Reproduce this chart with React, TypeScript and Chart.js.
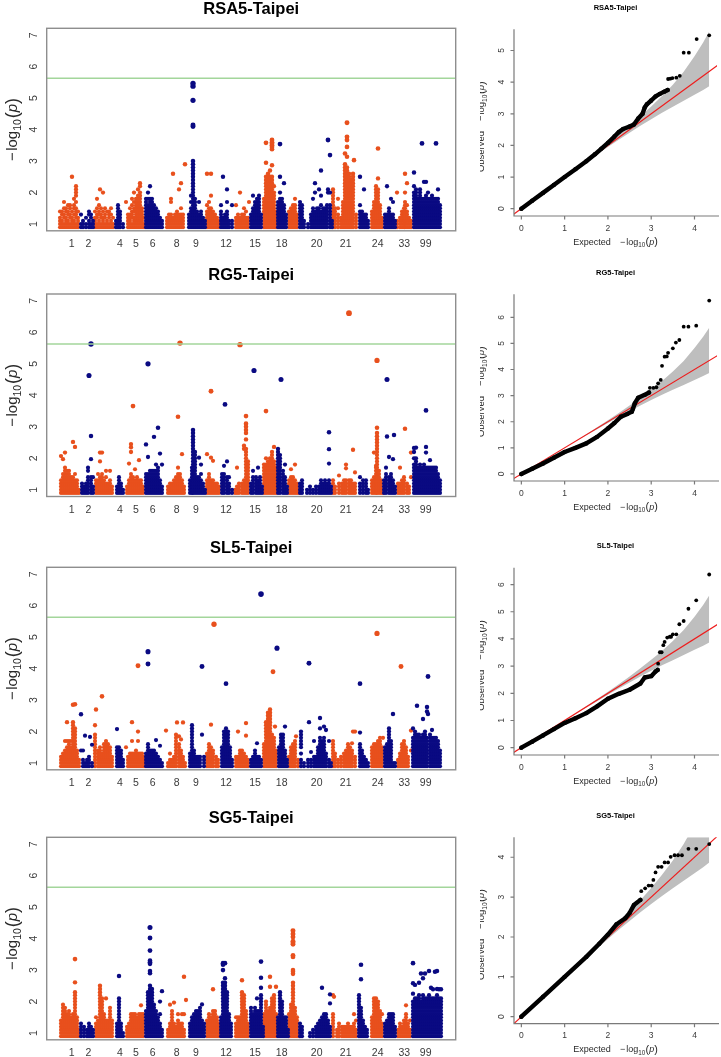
import React, { useEffect, useRef } from 'react';
import { Chart, registerables } from 'chart.js';

Chart.register(...registerables);

// ---------------- DATA ----------------
const CHROMS = ['1','2','3','4','5','6','8','9','10','12','13','15','17','18','19','20','21','22','24','25','33','99'];
const CHR_START = [13.3,33.3,47.3,68.3,78.3,98.3,119.3,141.3,158.3,173.3,187.3,203.3,216.3,230.3,241.3,252.3,284.3,311.3,323.3,336.3,349.3,365.3];
const TICK_POS = [25,41.6,73.3,89.3,106,130,149.3,179.3,208.3,235,270,299,331,357.6,379];
const TICK_LABELS = ['1','2','4','5','6','8','9','12','15','18','20','21','24','33','99'];
const MAN_Y_TICKS = [1,2,3,4,5,6,7];
const THRESHOLD = 5.63;

// per chromosome: "position:values(-log10 p x10) ..."
const RSA5 = [
 "0:9,10,11,12,14 2:9,10,11,13,14 4:9,10,12,13,15,17 6:9,10,11,12,14,15 8:9,10,11,13,14,16 10:9,10,12,13,15,16 12:9,10,11,12,14,25 14:9,10,11,13,15,16,18 16:9,10,12,13,14,15,17,19,20,21,22 18:9,10,11,12,14",
 "1:9,10,13 3:9,10,11 6:9,10,12 9:9,10,11,13,14 11:9,10,12,13 13:9,10,11",
 "1:9,10,11,12,14 3:9,10,12,13,15,18 5:9,10,11,13,14,16 6:21 7:9,10,12,13,15 9:9,10,11,12,14,20 11:9,10,12,13,15 13:9,10,11,14 15:9,10,12,13,14 17:9,10,11,13,15 19:9,10,12",
 "1:9,10,11 3:9,10,11,12,13,14,15,16 5:9,10,11,12,13,14 8:9,10",
 "1:17 3:9,10,11,12,13 5:9,10,11,12,13,15 7:9,10,12,13,14,16,18 9:9,10,11,12,14,15,17,20 11:9,10,11,12,13,14,15,16,17,18 13:9,10,11,12,13,14,15,16,17,18,19,21 15:9,10,11,12,13,14,15,16,17,18,19,20,22,23 17:9,10,11,12,13,14,15 19:9,10,12",
 "1:9,10,11,12,13,14,15,16,17,18 3:9,10,11,12,13,14,15,16,18,20 5:9,10,11,12,13,14,15,16,17,18,22 7:9,10,11,12,13,14,15,16,17,18 9:9,10,11,12,13,14,15,16 11:9,10,11,12,13,14,15 13:9,10,11,12,13,14 15:9,10,11,12 17:9,10,11",
 "1:9,10,11,12 3:9,10,11,12,13 5:9,10,11,12,13,17,18 7:9,10,11,12,26 9:9,10,11,12,13 11:9,10,11,12,13,14 13:9,10,11,12,13,21 15:9,10,11,12,13,15,23 17:9,10,11,12,13 19:29",
 "1:9,10,11,12,13 3:9,10,11,12,13,14,15,17,19 5:9,10,11,12,13,14,15,16,17,18,19,20,21,22,23,24,25,26,27,28,29,30,41,41.5,49.3,53.8,54.7 7:9,10,11,12,13,14,15,16,17,18 9:9,10,11,12,13,14 11:9,10,11,12,13,17 13:9,10,11,12,13,14 15:9,10,11,12 17:9,10,11",
 "2:9,10,11,12,13,14,16,26 4:9,10,11,12,13,14,15,17 6:9,10,11,12,13,14,15,19,26 8:9,10,11,12,13,14 10:9,10,11,12,13 12:9,10,11,12 14:9,10,11",
 "1:9,10,11,12,13,14,16 3:9,10,11,12,25 5:9,10,11,12,13 7:9,10,11,12,13,14,17,21 9:9,10,11 12:9,10,11,16",
 "2:9,10,11,12,16 4:9,10,11,12,13 6:9,10,11,12,20 8:9,10,11,12,13 10:9,10,11,12,13,15 12:9,10,11,12,14 14:9,10,11,12 15:17",
 "1:9,10,11,12,13 3:9,10,11,12,13,14,15,19 5:9,10,11,12,13,14,15,16,17 7:9,10,11,12,13,14,15,16,17,18 9:9,10,11,12,13,14,15,16,17,18,19 11:9,10,11,12,13",
 "1:9,10,11,12,13,14,15,16,17,18 3:9,10,11,12,13,14,15,16,17,18,19,20,21,22,23,24,25,29.5,35.8 5:9,10,11,12,13,14,15,16,17,18,19,20,21,22,23,24,25,26 7:9,10,11,12,13,14,15,16,17,18,19,20,21,22,23,24,25,27 9:9,10,11,12,13,14,15,16,17,18,19,20,21,22,23,24,25,28.7,33.8,34.5,35,35.5,36,36.7 11:9,10,11,12,13,14,15,16,17,18,19,20,22 13:9,10,11,12,13,14",
 "1:9,10,11,12,13,14,15,16,17 3:9,10,11,12,13,14,15,16,17,18,20,25,35.4 5:9,10,11,12,13,14,15,16,17,18 7:9,10,11,12,13,14,15,16,23 9:9,10,11,12,13",
 "1:9,10,11,12,13,14 3:9,10,11,12,13,14,15 5:9,10,11,12,13,14,15,16 7:9,10,11,12,13,14,15,16,18 9:9,10,11,12,13",
 "1:9,10,11,12,13,14,15,16,17 3:9,10,11,12,13,14,15,16 5:9,10,11 9:9,10 12:9,10,11,12,13 14:9,10,11,12,13,14,15,18 16:9,10,11,12,13,14,20,23 18:9,10,11,12,13,14,15 20:9,10,11,12,13,14,15,21 22:9,10,11,12,13,14,16,19,27 24:9,10,11,12,13,14,15 26:9,10,11,12,13,14,15 28:9,10,11,12,13,14,15,16 29:20,21,36.7 31:9,10,11,12,13,14,15,16,20,31.9 33:9,10,11",
 "2:9,10,11,12,13,14,15,16,17,18,19,20,21 4:9,10,11,12,13,14,15 7:9,10,11,12,13,15,18 10:9,10,11,12 12:9,10,11,12,13,14,15,16,17 14:9,10,11,12,13,14,15,16,17,18,19,20,21,22,23,24,25,26,27,28,29,32.4 16:9,10,11,12,13,14,15,16,17,18,19,20,21,22,23,24,25,26,27,28,31.4,34.5,36.7,37.7,42.2 18:9,10,11,12,13,14,15,16,17,18,19,20,21,22,23,24,25,26 20:9,10,11,12,13,14,15,16,17,18,19,20,21,22,23,24 22:9,10,11,12,13,14,15,16,17,18,19,20,21,22,23,24,25,26 23:30.3 25:9,10,11,12,13",
 "2:9,10,11,12,13,14,16,25 4:9,10,11,12,13,14 6:9,10,11,12,13,21 8:9,10,11,12,13 10:9,10,11",
 "2:9,10,11,12,13,14 4:9,10,11,12,13,14,15,16,17 6:9,10,11,12,13,14,15,16,17,18,19,20,21,22 8:9,10,11,12,13,14,15,16,17,18,19,20,21,24.5,34 10:9,10,11,12,13,14,15,16 12:9,10,11,12",
 "2:9,10,11,12,13 4:9,10,11,12,13,22 6:9,10,11,12,13,14,15 8:9,10,11,12,13,18 10:9,10,11,12,13,17 12:9,10,11",
 "1:9,10,11,20 4:9,10,11,12 6:9,10,11,12,13,14 8:9,10,11,12,13,14,15 9:9,10,11,12,13,14,15,16,17,20,26 11:9,10,11,12,13,14,16,23 13:9,10,11,12 15:9,10,11",
 "2:9,10,11,12,13,14,15,16,17,18,19,20,22,26.4 4:9,10,11,12,13,14,15,16,17,18,19,20,21 6:9,10,11,12,13,14,15,16,17,18 8:9,10,11,12,13,14,15,16,17,18,19,20,21 10:9,10,11,12,13,14,15,16,17,18,35.6 12:9,10,11,12,13,14,15,16,17,18,23.4 14:9,10,11,12,13,14,15,16,17,18,19,23.4 16:9,10,11,12,13,14,15,16,17,18,20 18:9,10,11,12,13,14,15,16,17,18 20:9,10,11,12,13,14,15,16,17,18,19 22:9,10,11,12,13,14,15,16,17,18 24:9,10,11,12,13,14,15,16,17,18,35.6 26:9,10,11,12,13,14,15,16,17,18,21 28:9,10,11,12,13,14,15,16",
];

const RG5 = [
 "1:9,10,11,12,13,20.7 3:9,10,11,12,13,14,15,19.7 5:9,10,11,12,13,14,15,16,17,21.8 7:9,10,11,12,13,14,15,16 9:9,10,11,12,13,14,15,16 11:9,10,11,12,13,14 13:9,10,11,12,13,14,25.2 15:9,10,11,12,13,15,23.6 17:9,10,11,12,13 19:9,10",
 "2:9,10,11,12 4:9,10,11 6:9,10,11,12 8:9,10,11,12,13,14,16,17 9:46.3 11:9,10,11,12,13,14,19.7,27.1,56.3 13:9,10,11,14",
 "2:9,10,11,12,13 4:9,10,11,12,13,15 6:9,10,11,12,13,14,19,21.8 8:9,10,11,12,13,14,15,21.8 10:9,10,11,12,13 12:9,10,11,12,14,16 14:9,10,11,12 16:9,10,11,12,13,16 18:9,10,11",
 "2:9,10,11 4:9,10,11,12,13,14 6:9,10,11,12 8:9,10",
 "2:9,10,11 4:9,10,11,12,13,18.3 6:9,10,11,12,13,14,15,22,23.5,24.5 8:9,10,11,12,13,14,36.6 10:9,10,11,12,13,16.5 12:9,10,11,12,13,14 14:9,10,11,12,13,19.4 16:9,10,11,12,13 18:9,10,11",
 "1:9,10,11,12,13,14,15,24.4 3:9,10,11,12,13,14,15,20.4,50 5:9,10,11,12,13,14,15,16 7:9,10,11,12,13,14,15,16 9:9,10,11,12,13,14,15,16,26.8 11:9,10,11,12,13,14,15,16,18 13:9,10,11,12,13,14,15,16,17,29.7 15:9,10,11,12,13,21.5 17:9,10,11,18",
 "2:9,10,11 4:9,10,11,12 6:9,10,11,12 8:9,10,11,12,13 10:9,10,11,12,13,14 12:9,10,11,12,13,14,15,17,33.2 14:9,10,11,12,13,14,15,56.6 16:9,10,11,12,13,21.3 18:9,10,11",
 "2:9,10,11,12,13 4:9,10,11,12,13,14,15,16,17 5:9,10,11,12,13,14,15,16,17,18,19,20,21,22,23,24,25,26,27,28,29 7:9,10,11,12,13,14,15,16,17,18,19,20,21,22 9:9,10,11,12,13,14 11:9,10,11,12,13,14,20.2 13:9,10,11,12,13,15,18 15:9,10,11,12 17:9,10",
 "2:9,10,11,12,13,21.3 4:9,10,11,12,13,14,15 6:9,10,11,12,13,20.2,41.3 8:9,10,11,12,13,19.2 10:9,10,11,12 12:9,10,11,12 14:9,10,11",
 "2:9,10,11,12,13,14,15 4:9,10,11,12,13,14,15,17.6 5:37.1 7:9,10,11,12,13,14,19 9:9,10,11,12,14 12:9,10",
 "1:9,10 3:9,10,11,17 5:9,10,11,12 6:56.1 8:9,10,11,12 10:9,10,11,12,13,23,24 12:9,10,11,12,13,14,15,16,17,18,19,20,21,22,23,26,28,29,30,31,33.4 14:9,10,11,12,13,14,15,16,17,18,19",
 "1:9,10,11,12 3:9,10,11,12,13,14,16 4:47.9 6:9,10,11,12,13,14 8:9,10,11,12,13,17 10:9,10,11,12,13,14 12:9,10,11",
 "1:9,10,11,12,13,14,15,16,17,18 3:9,10,11,12,13,14,15,16,17,18,20,35 5:9,10,11,12,13,14,15,16,17,18,19 7:9,10,11,12,13,14,15,16,17,18,19,20 9:9,10,11,12,13,14,15,16,17,18,19,20,21,22 11:9,10,11,12,13,14,15,16,17,18,19,23.6 13:9,10,11,12,13,14,15,16,17",
 "1:9,10,11,12,13,14,15,16,17,18,19,20,21,22,23 3:9,10,11,12,13,14,15,16,17,18,19,20,21 4:45 6:9,10,11,12,13,14,15,16 8:9,10,11,12,13,14,18 10:9,10,11",
 "1:9,10,11,12,13 3:9,10,11,12,13,14,16.5 5:9,10,11,12,13,14 7:9,10,11,12,13,18 9:9,10,11,12 11:9,10",
 "1:9,10,11,12 3:9,10,11,12,13 8:9,10 11:9,10,11 14:9,10 17:9,10,11 20:9,10,11 22:9,10,11,12,13 24:9,10,11,12 26:9,10,11,12,13 28:9,10,11,12 30:9,10,11,12,13,18.3,22.9,28.3 32:9,10,11",
 "2:9,10,11,12,13 4:9,10,11 8:9,10,11,12,14.5 11:9,10,11,12 13:9,10,11,12,13 15:9,10,11,12,13,16.8,18 18:66.1 18:9,10,11,12,13 20:9,10,11,12,13 22:9,10,11,12,22.7 24:9,10,11,12,15.5",
 "2:9,10,11,12,14 5:9,10,11,12,13 8:9,10,11,12,13 10:9,10",
 "2:9,10,11,12,13 4:9,10,11,12,13,14,21.8 6:9,10,11,12,13,14,15,16,17,17.6 7:9,10,11,12,13,14,15,16,17,18,19,20,21,22,23,24,25,26,27,28,29.7,51.1 9:9,10,11,12,13,14,15,16 11:9,10,11,12,13 13:9,10",
 "1:9,10,11,12,13 3:9,10,11,12,13,14,15,17 4:26.9,45 6:9,10,11,12,13,14,20.4 8:9,10,11,12,13,14,15 10:9,10,11,12,13,19.7 11:27.4 12:9,10,11",
 "2:9,10,11,12 4:9,10,11,12,17 6:9,10,11,12,13 8:9,10,11,12,13,14 9:29.4 11:9,10,11,12 13:9,10,11 15:14,21.8",
 "2:9,10,11,12,13,14,15,16,17,18,20,22,23.3 4:9,10,11,12,13,14,15,16,17,18,19,20,23.4 6:9,10,11,12,13,14,15,16,17 8:9,10,11,12,13,14,15,16,17,18 10:9,10,11,12,13,14,15,16,17 12:9,10,11,12,13,14,15,16,17,18 14:9,10,11,12,13,14,15,16,17,21.8,23.6,35.2 16:9,10,11,12,13,14,15,16,17 18:9,10,11,12,13,14,15,16,17,19.4 20:9,10,11,12,13,14,15,16,17 22:9,10,11,12,13,14,15,16,17 24:9,10,11,12,13,14,15,16,17 26:9,10,11,12,13,14,15 28:9,10,11,12,13",
];

const SL5 = [
 "1:9,10,11,12 3:9,10,11,12,13 5:9,10,11,12,13,14,17 7:9,10,11,12,13,14,15,17,23 9:9,10,11,12,13,14,15,16,17 11:9,10,11,12,13,14,15,17 13:9,10,11,12,13,14,15,16,17,18,19,20,21,22,23,28.5 15:9,10,11,12,13,14,15,16,17,18,19,20,21,28.7 17:9,10,11,12,13,14 19:9,10,11",
 "1:14,25.5 3:9,10,11,14 5:9,10,18.7 7:9,10,11 9:9,10,11,12 10:18.3 12:9,10,15.8",
 "1:9,10,11,12,13,14,15,16,17,18,19,22 2:27 4:9,10,11,12,13,14 6:9,10,11,12,13,14,15 8:9,10,11,12,13,31.2 10:9,10,11,12,13,14,15,16 12:9,10,11,12,13,14,15,16,17 14:9,10,11,12,13,14,15,16 16:9,10,11,12,13,14,15 18:9,10,11,12",
 "2:9,10,11,12,13,14,15,20.8 4:9,10,11,12,13,14,15 6:9,10,11,12,13,14 8:9,10,11",
 "1:15 3:9,10,11,12 5:9,10,11,12,13 7:9,10,11,12,13,17,23 9:9,10,11,12,13 11:9,10,11,12,13,14 13:9,10,11,12,13,17,20,40.9 15:9,10,11,12,13 17:9,10,11,12,13 19:9,10,11,12",
 "1:9,10,11,12,13 3:9,10,11,12,13,14,15,16,41.5,45.4 5:9,10,11,12,13,14 7:9,10,11,12,13,14 9:9,10,11,12,13,14 11:9,10,11,12,13,17.3 13:9,10,11,12 15:9,10,11,15.5 17:9,10",
 "0:20.3 2:9,10 4:9,10,11,13 6:9,10,11 8:9,10,11,12 10:9,10,11,12,13,14,15,16,17,18,19 11:22.9 13:9,10,11,12,13,14,15,16,18.5 15:9,10,11,12,13,14,17.5 17:9,10,11,12,22.9 19:9,10",
 "2:9,10,11,12,13 4:9,10,11,12,13,14,15,16,17,18,19,20,21,22 6:9,10,11,12,13,14 8:9,10,11,12 10:9,10,11,12 12:9,10,11,12 14:19,40.7 16:9,10,11,12",
 "2:9,10,11,12,13 4:9,10,11,12,13,14,15,16 6:9,10,11,12,13,14,15,22.2 8:9,10,11,12,13,14 9:54.1 11:9,10,11,12 13:9,10,11",
 "2:9,10,11,12,13,14,15 4:9,10,11,12,13,14,15,16,17,18,19,20 6:9,10,11,12,13,14,15,16,17,18,19,20,21,35.2 8:9,10,11,12,13,14,15,16,17,18,19,20 10:9,10,11,12,13,14,15 12:9,10,11",
 "2:9,10,11,12 4:9,10,11,12,20 6:9,10,11,12,13,14 8:9,10,11,12,13,14 10:9,10,11,12,13 12:9,10,11,12,18.7,22.7 14:9,10,11",
 "1:9,10,11 3:9,10,11,12 5:9,10,11,12,13,14 7:9,10,11,12,16.3 9:9,10,11,12 11:9,10,11,63.7",
 "1:9,10,11,12,13,14,15,16 3:9,10,11,12,13,14,15,16,17,18,19,20,21,22,23 5:9,10,11,12,13,14,15,16,17,18,19,20,21,22,23,24,25,26 7:9,10,11,12,13,14,15,16,17,18,19,20,21,22,23,24,25,26,27 9:9,10,11,12,13,14,15,16,17,18,19 10:39 11:9,10,11,12,13,14,15,16,17,18 12:21.6 13:9,10,11,12,13,14",
 "0:46.5 2:9,10,11,12,13,14,15 4:9,10,11,12,13,14,15,16,17,18,19 6:9,10,11,12,13,14,15,16,17,18,19 8:9,10,11,12,13,14,21.6 10:9,10,11",
 "1:9,10,11,12 3:9,10,11,12,13,14,15 5:9,10,11,12,13,14,15,16 7:9,10,11,12,13,14,15,16,17 8:18.5 10:9,10,11",
 "2:9,10,11,13,15,16,17,18,19,20 5:9,10 9:9,10,11 10:23,41.7 12:9,10,11,13.5 15:9,10,11,12,17 17:9,10,11,12 19:9,10,11,12,13,14,15 21:9,10,11,12,13,14,15,16,17,18,21,24.3 23:9,10,11,12,13,14,15,16,17 25:9,10,11,12,13,14,15,16,17,18,21.6 27:9,10,11,12,13,20.5 30:9,10,11,17 32:9,10",
 "2:9,10,11,12,13,14,15,16,17 4:9,10,11,12,13 7:9,10,11 10:9,10,11,12 13:9,10,11,12,13 15:9,10,11,12,13,14 17:9,10,11,12,13,14,15,16 19:9,10,11,12,13,14,15 21:9,10,11,12,13,14,16.3 22:20 24:9,10,11,12,20",
 "2:9,10,11,12,13,14,15,16,19.7,35.2 4:9,10,11,12,13,14 6:9,10,11,12 8:9,10,11 10:9,10",
 "2:9,10,11,12,13,14,15 4:9,10,11,12,13,14,15,16 6:9,10,11,12,13,14,15,16 7:51.2 8:9,10,11,12,13,14,15,16,17 10:9,10,11,12,13,14,15,16,17,18 12:9,10,11,12,13,14,15 13:18",
 "2:9,10,11,12,13,14,15 4:9,10,11,12,13,14,15,16 6:9,10,11,12,13,14,15,16,17,18,19,20,21 8:9,10,11,12,13,14,15,16,17 10:9,10,25.6 12:9,10",
 "2:9,10,11 4:9,10,11,12,13 5:40.7 6:9,10,11,12,13,14,15,16 8:9,10,11,12,13,14,15,16,17 10:9,10,11,12,13,14,15 12:9,10,11,12 15:14,20.3",
 "1:9,10,11,12,13,14,15,16,17,18,21 3:9,10,11,12,13,14,15,16,17,18,19,20 5:9,10,11,12,13,14,15,16,17,18,19,28.2 7:9,10,11,12,13,14,15,16,17,18,19 9:9,10,11,12,13,14,15,16,17,18 11:9,10,11,12,13,14,15,16,17,18,19,24 13:9,10,11,12,13,14,15,16,17,18,19,20 15:9,10,11,12,13,14,15,16,17,18,26.4,27.8 16:25.6,37.5 18:9,10,11,12,13,14,15,16,17,18,19 20:9,10,11,12,13,14,15,16,17,18,20.5 22:9,10,11,12,13,14,15,16,17,18 24:9,10,11,12,13,14,15,16,17,18 26:9,10,11,12,13,14,15,16,17 28:9,10,11,12,13,14",
];

const SG5 = [
 "1:9,10,11,12,13,14 3:9,10,11,12,13,14,15,16,17,18,19 5:9,10,11,12,13,14,15,16,17,18 7:9,10,11,12,13,14,15,16 9:9,10,11,12,13,14,15,16,17 11:9,10,11,12,13,14,15 13:9,10,11,12,13,14,15,16 15:9,10,11,12,13,14,15,16,17,18,19,20,21,22,23,26.1,33.5 17:9,10,11,12,13,14,15 19:9,10,11",
 "1:9,10,11,12,13 4:9,10,11,12 7:9,10,11 9:9,10,11,12,13 11:9,10,11,12 13:9,10,11",
 "2:9,10,11,12,13,15 4:9,10,11,12,13,14 6:9,10,11,12,13,14,15,16,17,18,19,20,21,22,23,24,25 8:9,10,11,12,13,14,15,16,17,18,19,20,21 10:9,10,11,12,13,14,15,16 12:9,10,11,12,13,14,21 14:9,10,11,12,13,14 16:9,10,11,12,13,14,15,16,17,18 18:9,10,11,12,13,14",
 "2:9,10,11,12,13 4:9,10,11,12,13,14,15,16,17,18,19,20,21,28.1 6:9,10,11,12,13 8:9,10",
 "2:9,10,11,12 4:9,10,11,12,13 6:9,10,11,12,13,14,15,16 8:9,10,11,12,13,14,15,16 10:9,10,11,12,13,14,15,16 12:9,10,11,12,13,14,15 14:9,10,11,12,13,14,15,16 16:9,10,11,12,13,14,15,16,18.8 18:9,10,11,12,13,14,15,16",
 "1:9,10,11,12,13,14,15,16,17 3:9,10,11,12,13,14,15,16,17,18,19,20,21,22,23 5:9,10,11,12,13,14,15,16,17,18,19,20,21,22,23,24,25,29,29.7,32,32.5,33,36.2,40.2,43.5 7:9,10,11,12,13,14,15,16,17,18,19,20,21,22,23,24 9:9,10,11,12,13,14,15,16,17,18,19 11:9,10,11,12,13,14,15,16,17 13:9,10,11,12,13,14,15 15:9,10,11,12,13,16,20 17:9,10,11,23.3",
 "2:9,10,11 4:9,10,11,12,13,19 6:9,10,11,12,13,14,15,16,17 8:9,10,11,12,13,19.7 10:9,10,11,12 12:9,10,11,12,13,14,16 14:9,10,11,12,13 16:9,10,11,12,13,16 18:9,10,11,16,27.9 20:20.5",
 "2:9,10,11,12,13 4:9,10,11,12,13,14,15 6:9,10,11,12,13,14,15,16 8:9,10,11,12,13,14,15,16,17 10:9,10,11,12,13,14,15,16,17 12:9,10,11,12,13,14,15,16,17,18 14:9,10,11,12,13,14,19.1 16:9,10,11,12,13",
 "2:9,10,11,12,13,14 4:9,10,11,12,13,14,15,16 6:9,10,11,12,13,14,15 8:9,10,11,12,13,14,15,16,17,23.9 10:9,10,11,12,13,14,15,16,17 12:9,10,11,12,13,14,15 14:9,10,11,12,13",
 "1:9,10,11,12,13,14,15 3:9,10,11,12,13,14,15,16,17,18,19,20,21,22,23,24,25,26,30,31.7,32.2 5:9,10,11,12,13,14,15,16,17,18,19,20,21,22,23,24,25,26,27.4,32.2 7:9,10,11,12,13,14,15,16,17,18,19,20,21,22,23 9:9,10,11,12,13,14,15,16 11:9,10,11,12,13",
 "2:9,10,11,12,13,15 4:9,10,11,12,13,14,15 6:9,10,11,12,13,14,15 8:9,10,11,12,13,14,15,16,17,18,19,20,21,22,23,26.8 10:9,10,11,12,13,14,15,16,17,18,19,20,21,22 12:9,10,11,12,13,14,15,16,17 14:9,10,11,12,13",
 "1:9,10,11,12,13,14,15,16,17,18 3:9,10,11,12,13,14,15,16 5:9,10,11,12,13,14,15,16,17,18 7:9,10,11,12,13,14,15,16,17,21 9:9,10,11,12,13,14,15,16,17 11:9,10,11,12,13,14,15,16,17,18,19,20,21,22,24.4,27.6,32.7 13:9,10,11,12",
 "1:9,10,11,12,13,14,15,16 3:9,10,11,12,13,14,15,16,17,18,19,20 5:9,10,11,12,13,14,15,16,17 7:9,10,11,12,13,14,15,16,17,18,24.7,27.9 9:9,10,11,12,13,14,15,16,17,18,19,20,21 11:9,10,11,12,13,14,15,16,17,18,19,20,21,22 13:9,10,11,12,13,14,15,16,24.7",
 "1:9,10,11,12,13,14,15 3:9,10,11,12,13,14,15,16,17,18,19,20,21,22,23 5:9,10,11,12,13,14,15,16,17,18,19,20 7:9,10,11,12,13,14,15 9:9,10,11,12,13,14,15 11:9,10,11",
 "1:9,10,11,12,13,14,15,16 3:9,10,11,12,13,14,15,16,17,18,19 5:9,10,11,12,13,14,15,16,17,18,19,20,21,22,23,24,25,26,28.8,29.5,30,34.2,34.7,38.2,38.7,39.2,40.5,41.5,42.5 7:9,10,11,12,13,14,15,16,17,18 9:9,10,11,12,13,14,15 11:9,10",
 "1:9,10,11,12,13 3:9,10,11,12 11:9,10 14:9,10,11 17:9,10,11,12 19:9,10,11,12,13 21:9,10,11,12,13,14 23:9,10,11,12,13,14,15,24.4 25:9,10,11,12,13,14,15,16 27:9,10,11,12,13,14,15,16 29:9,10,11,12,13,14 31:9,10,11,12,19.4,22.3",
 "2:9,10,11,12,13,14,15,16,22 3:21.5 6:9,10,11 8:9,10,11,12,13 11:9,10,11,12 13:9,10,11,12 15:9,10,11,12 17:9,10,11,12,13 19:9,10,11,12 21:9,10,11,12 23:9,10,11,12,13,16 25:9,10,11,14",
 "1:9,10,11,12,13,14,15,16,17,18,19,20,21,22 3:9,10,11,12,13,14,15,16,17,18,27.1,31.7 5:9,10,11,12,13,14 7:9,10,11,12 9:9,10,11",
 "2:9,10,11,12,13,14,15 4:9,10,11,12,13,14,15,16,17,18,19,20,21 6:9,10,11,12,13,14,15,16,17,18,19,20,21 8:9,10,11,12,13,14,15,16,17,18,19,20 10:9,10,11,12,13,14,15,16,17 12:9,10,11,12,13,16",
 "2:9,10,11,12,13 4:9,10,11,12,13,14 6:9,10,11,12,13,14,15,16 8:9,10,11,12,13,14,15,16 10:9,10,11,12,13,14,15,16 12:9,10,11,12",
 "2:9,10,11 4:9,10,11,12,13 6:9,10,11,12 8:9,10,11,12,13,14 10:9,10,11,12,13,14,15,16,18.8 12:9,10,11,12,13 14:9,10,11,14",
 "1:9,10,11,12,13,14,15,16,17,18,19,20,22.5,25.8,32.2 3:9,10,11,12,13,14,15,16,17,18,19,20,21,25.3 5:9,10,11,12,13,14,15,16,17,18,19,20,21 7:9,10,11,12,13,14,15,16,17,18,19,20,21,22,26 9:9,10,11,12,13,14,15,16,17,18,19,20,28.9 11:9,10,11,12,13,14,15,16,17,18,19,20,21,22,27.4 13:9,10,11,12,13,14,15,16,17,18,19,20,21,28.9 15:9,10,11,12,13,14,15,16,17,18,19,20,21 17:9,10,11,12,13,14,15,16,17,18,19,20,21,22,29.7 19:9,10,11,12,13,14,15,16,17,18,19,20,21,24.4 21:9,10,11,12,13,14,15,16,17,18,19,20,21,23.9 23:9,10,11,12,13,14,15,16,17,18,19,20,21,29.5 25:9,10,11,12,13,14,15,16,17,18,19,20,21,22,24,29.7 27:9,10,11,12,13,14,15,16,17,18,19,20,21,23.9 29:9,10,11,12,13,14,15,16,17,18,19,20,21,23.9",
];

// QQ plots: [expected, observed]
const QQ_RSA5_CURVE = [[0,0],[0.25,0.25],[0.5,0.5],[0.75,0.75],[1,1],[1.25,1.25],[1.5,1.5],[1.7,1.72],[1.85,1.9],[2,2.08],[2.15,2.28],[2.25,2.42],[2.35,2.52],[2.5,2.6],[2.6,2.66],[2.7,2.85],[2.8,3.0],[2.85,3.2],[2.9,3.3],[3.0,3.42],[3.1,3.55],[3.2,3.63],[3.3,3.7],[3.38,3.75]];
const QQ_RSA5_TAIL = [[3.39,4.1],[3.44,4.11],[3.49,4.13],[3.58,4.14],[3.66,4.2],[3.75,4.93],[3.87,4.93],[4.05,5.36],[4.34,5.48]];
const QQ_RG5_CURVE = [[0,0],[0.25,0.2],[0.5,0.4],[0.75,0.62],[1,0.84],[1.25,1.0],[1.5,1.17],[1.75,1.42],[2,1.74],[2.15,1.95],[2.3,2.19],[2.45,2.3],[2.55,2.38],[2.58,2.5],[2.62,2.7],[2.7,2.92],[2.85,3.03],[2.95,3.12]];
const QQ_RG5_TAIL = [[2.97,3.3],[3.05,3.3],[3.12,3.32],[3.16,3.47],[3.22,3.6],[3.25,4.14],[3.31,4.49],[3.36,4.5],[3.39,4.64],[3.5,4.81],[3.57,5.03],[3.65,5.13],[3.75,5.64],[3.86,5.64],[4.04,5.68],[4.34,6.64]];
const QQ_SL5_CURVE = [[0,0],[0.25,0.22],[0.5,0.45],[0.75,0.68],[1,0.91],[1.25,1.08],[1.5,1.27],[1.75,1.52],[2,1.8],[2.25,1.98],[2.5,2.13],[2.75,2.36],[2.85,2.58],[3.0,2.63],[3.1,2.8],[3.15,2.86]];
const QQ_SL5_TAIL = [[3.16,3.09],[3.2,3.51],[3.24,3.51],[3.28,3.77],[3.31,3.89],[3.37,4.05],[3.43,4.08],[3.46,4.08],[3.5,4.17],[3.58,4.17],[3.65,4.54],[3.75,4.66],[3.86,5.11],[4.04,5.42],[4.34,6.37]];
const QQ_SG5_CURVE = [[0,0],[0.5,0.5],[1,1],[1.5,1.5],[1.8,1.83],[2,2.06],[2.2,2.32],[2.4,2.47],[2.5,2.6],[2.6,2.8],[2.75,2.93]];
const QQ_SG5_TAIL = [[2.77,3.15],[2.86,3.22],[2.94,3.29],[3.01,3.29],[3.05,3.43],[3.1,3.62],[3.16,3.76],[3.24,3.76],[3.31,3.87],[3.39,3.87],[3.45,4.01],[3.54,4.05],[3.62,4.05],[3.71,4.05],[3.86,4.21],[4.04,4.21],[4.34,4.33]];

// 95% confidence band
const BAND_X = [1.3,1.5,1.75,2,2.25,2.5,2.75,3,3.25,3.5,3.75,4,4.2,4.34];
const BAND_UP = [1.31,1.52,1.79,2.06,2.33,2.62,2.92,3.23,3.56,3.92,4.33,4.82,5.25,5.6];
const BAND_LO = [1.29,1.48,1.71,1.95,2.18,2.4,2.62,2.83,3.03,3.22,3.41,3.6,3.75,3.87];
const IDENTITY = [-1, 8];
const QQ_X_TICKS = [0,1,2,3,4];

// ---------------- STYLE / LAYOUT ----------------
const W = 721, H = 1057;
const FONT = '"Liberation Sans", Arial, Helvetica, sans-serif';
const ORANGE = '#E8501D';
const NAVY = '#0A0A82';
const GREEN = '#a3d69b';
const RED = '#ee1c1c';
const BAND = '#bebebe';
const MAN_L = 46.7, MAN_R = 455.7, MAN_BOX_H = 202.5;
const MAN_X = [0, 409];
const MAN_Y = [0.785, 7.22];
const QQ_L = 514, QQ_R = 719.7;
const QQ_X = [-0.17, 4.52];

const MAN_PANELS = [
  { title: 'RSA5-Taipei', data: RSA5, top: 28.3 },
  { title: 'RG5-Taipei', data: RG5, top: 294 },
  { title: 'SL5-Taipei', data: SL5, top: 567.3 },
  { title: 'SG5-Taipei', data: SG5, top: 837.3 },
];
const QQ_PANELS = [
  { title: 'RSA5-Taipei', top: 29.3, bottom: 216, y: [-0.23, 5.67], yTicks: [0,1,2,3,4,5], curve: QQ_RSA5_CURVE, tail: QQ_RSA5_TAIL },
  { title: 'RG5-Taipei', top: 294.3, bottom: 481, y: [-0.27, 6.88], yTicks: [0,1,2,3,4,5,6], curve: QQ_RG5_CURVE, tail: QQ_RG5_TAIL },
  { title: 'SL5-Taipei', top: 567.7, bottom: 755, y: [-0.27, 6.62], yTicks: [0,1,2,3,4,5,6], curve: QQ_SL5_CURVE, tail: QQ_SL5_TAIL },
  { title: 'SG5-Taipei', top: 837.3, bottom: 1023.7, y: [-0.175, 4.5], yTicks: [0,1,2,3,4], curve: QQ_SG5_CURVE, tail: QQ_SG5_TAIL },
];

// ---------------- HELPERS ----------------
function parseChrom(str: string, start: number) {
  const pts: { x: number; y: number }[] = [];
  for (const col of str.trim().split(/\s+/)) {
    const [p, ys] = col.split(':');
    const x = start + parseFloat(p);
    for (const v of ys.split(',')) if (v) pts.push({ x, y: parseFloat(v) / 10 });
  }
  return pts;
}
const toXY = (arr: number[][]) => arr.map(([x, y]) => ({ x, y }));

type Part = { t: string; s: number; it?: boolean; dy?: number; gap?: number };
const fontOf = (p: Part) => `${p.it ? 'italic ' : ''}${p.s}px ${FONT}`;
function drawParts(ctx: CanvasRenderingContext2D, parts: Part[], cx: number, cy: number, rotate: boolean, base: number, color: string) {
  let total = 0;
  const ws = parts.map(p => { ctx.font = fontOf(p); const w = ctx.measureText(p.t).width + (p.gap || 0); total += w; return w; });
  ctx.save();
  ctx.translate(cx, cy);
  if (rotate) ctx.rotate(-Math.PI / 2);
  ctx.fillStyle = color;
  ctx.textAlign = 'left';
  ctx.textBaseline = 'alphabetic';
  let x = -total / 2;
  parts.forEach((p, i) => { ctx.font = fontOf(p); ctx.fillText(p.t, x + (p.gap || 0), base + (p.dy || 0)); x += ws[i]; });
  ctx.restore();
}
function logParts(s: number, gap = 0): Part[] {
  return [
    { t: '\u2212', s, gap },
    { t: 'log', s, gap: s * 0.1 },
    { t: '10', s: s * 0.7, dy: s * 0.28 },
    { t: '(', s: s * 1.2, dy: s * 0.07, gap: s * 0.05 },
    { t: 'p', s, it: true },
    { t: ')', s: s * 1.2, dy: s * 0.07 },
  ];
}
const radiusFn = (c: any) => {
  const y = c && c.raw ? c.raw.y : 1;
  return 2.05 + 0.16 * Math.max(0, y - 1.5);
};

function makeManhattan(canvas: HTMLCanvasElement, p: typeof MAN_PANELS[number]) {
  const orange: any[] = [], navy: any[] = [];
  p.data.forEach((s, i) => { const pts = parseChrom(s, CHR_START[i]); (i % 2 === 0 ? orange : navy).push(...pts); });
  const top = p.top, bottom = top + MAN_BOX_H;
  const decor = {
    id: 'manDecor',
    afterDraw(chart: any) {
      const { ctx, chartArea: a, scales: { x, y } } = chart;
      ctx.save();
      ctx.strokeStyle = '#8e8e8e';
      ctx.lineWidth = 1.4;
      ctx.strokeRect(a.left, a.top, a.right - a.left, a.bottom - a.top);
      ctx.fillStyle = '#000';
      ctx.font = `bold 16.5px ${FONT}`;
      ctx.textAlign = 'center';
      ctx.textBaseline = 'alphabetic';
      ctx.fillText(p.title, (a.left + a.right) / 2, a.top - 14.2);
      ctx.fillStyle = '#3a3a3a';
      ctx.font = `10.5px ${FONT}`;
      TICK_POS.forEach((v, i) => ctx.fillText(TICK_LABELS[i], x.getPixelForValue(v), a.bottom + 16.6));
      MAN_Y_TICKS.forEach(v => {
        ctx.save();
        ctx.translate(a.left - 10, y.getPixelForValue(v));
        ctx.rotate(-Math.PI / 2);
        ctx.fillText(String(v), 0, 0);
        ctx.restore();
      });
      ctx.restore();
      drawParts(ctx, logParts(15), 11.8, (a.top + a.bottom) / 2, true, 15 * 0.36, '#2a2a2a');
    },
  };
  return new Chart(canvas, {
    type: 'scatter',
    data: {
      datasets: [
        { type: 'line', data: [{ x: MAN_X[0], y: THRESHOLD }, { x: MAN_X[1], y: THRESHOLD }], borderColor: GREEN, borderWidth: 1.5, pointRadius: 0, clip: 0 } as any,
        { data: navy, backgroundColor: NAVY, pointBackgroundColor: NAVY, pointBorderWidth: 0, borderWidth: 0, pointRadius: radiusFn, pointHoverRadius: radiusFn } as any,
        { data: orange, backgroundColor: ORANGE, pointBackgroundColor: ORANGE, pointBorderWidth: 0, borderWidth: 0, pointRadius: radiusFn, pointHoverRadius: radiusFn } as any,
      ],
    },
    options: {
      animation: false,
      responsive: false,
      devicePixelRatio: 1,
      events: [],
      layout: { padding: { left: MAN_L, right: W - MAN_R, top, bottom: H - bottom } },
      plugins: { legend: { display: false }, tooltip: { enabled: false }, title: { display: false } },
      scales: {
        x: { type: 'linear', min: MAN_X[0], max: MAN_X[1], display: false },
        y: { type: 'linear', min: MAN_Y[0], max: MAN_Y[1], display: false },
      },
    } as any,
    plugins: [decor],
  });
}

function makeQQ(canvas: HTMLCanvasElement, p: typeof QQ_PANELS[number]) {
  const decor = {
    id: 'qqDecor',
    afterDraw(chart: any) {
      const { ctx, chartArea: a, scales: { x, y } } = chart;
      ctx.save();
      ctx.strokeStyle = '#7a7a7a';
      ctx.lineWidth = 1.2;
      ctx.beginPath();
      ctx.moveTo(a.left, a.top);
      ctx.lineTo(a.left, a.bottom);
      ctx.lineTo(a.right + 2, a.bottom);
      QQ_X_TICKS.forEach(v => { const px = x.getPixelForValue(v); ctx.moveTo(px, a.bottom); ctx.lineTo(px, a.bottom + 3.5); });
      p.yTicks.forEach(v => { const py = y.getPixelForValue(v); ctx.moveTo(a.left, py); ctx.lineTo(a.left - 3.5, py); });
      ctx.stroke();
      ctx.fillStyle = '#000';
      ctx.font = `bold 7.5px ${FONT}`;
      ctx.textAlign = 'center';
      ctx.textBaseline = 'alphabetic';
      ctx.fillText(p.title, (a.left + a.right) / 2, a.top - 19.3);
      ctx.fillStyle = '#3a3a3a';
      ctx.font = `8.5px ${FONT}`;
      QQ_X_TICKS.forEach(v => ctx.fillText(String(v), x.getPixelForValue(v), a.bottom + 14.7));
      p.yTicks.forEach(v => {
        ctx.save();
        ctx.translate(a.left - 10, y.getPixelForValue(v));
        ctx.rotate(-Math.PI / 2);
        ctx.fillText(String(v), 0, 0);
        ctx.restore();
      });
      ctx.restore();
      drawParts(ctx, [{ t: 'Expected', s: 9 }, ...logParts(9, 9.3)], (a.left + a.right) / 2, a.bottom + 25.3, false, 9 * 0.36, '#2a2a2a');
      ctx.save();
      ctx.beginPath();
      ctx.rect(480, 0, W - 480, H);
      ctx.clip();
      drawParts(ctx, [{ t: 'Observed', s: 9.5 }, ...logParts(9.5, 9.8)], 481, (a.top + a.bottom) / 2 + 4, true, 9.5 * 0.36, '#2a2a2a');
      ctx.restore();
    },
  };
  const none = 'rgba(0,0,0,0)';
  return new Chart(canvas, {
    type: 'line',
    data: {
      datasets: [
        { data: toXY(p.tail), showLine: false, pointRadius: 1.9, pointBackgroundColor: '#000', pointBorderWidth: 0, borderColor: none } as any,
        { data: toXY(p.curve), borderColor: '#000', borderWidth: 4.4, pointRadius: 2.2, pointBackgroundColor: '#000', pointBorderWidth: 0, borderCapStyle: 'round', borderJoinStyle: 'round', fill: false } as any,
        { data: IDENTITY.map(v => ({ x: v, y: v })), borderColor: RED, borderWidth: 1.2, pointRadius: 0, clip: 0, fill: false } as any,
        { data: BAND_X.map((v, i) => ({ x: v, y: BAND_UP[i] })), borderColor: none, borderWidth: 0, pointRadius: 0, clip: 0, fill: '+1', backgroundColor: BAND } as any,
        { data: BAND_X.map((v, i) => ({ x: v, y: BAND_LO[i] })), borderColor: none, borderWidth: 0, pointRadius: 0, clip: 0, fill: false } as any,
      ],
    },
    options: {
      animation: false,
      responsive: false,
      devicePixelRatio: 1,
      events: [],
      layout: { padding: { left: QQ_L, right: W - QQ_R, top: p.top, bottom: H - p.bottom } },
      plugins: { legend: { display: false }, tooltip: { enabled: false }, title: { display: false } },
      scales: {
        x: { type: 'linear', min: QQ_X[0], max: QQ_X[1], display: false },
        y: { type: 'linear', min: p.y[0], max: p.y[1], display: false },
      },
    } as any,
    plugins: [decor],
  });
}

function ChartCanvas({ build }: { build: (c: HTMLCanvasElement) => Chart }) {
  const ref = useRef<HTMLCanvasElement>(null);
  useEffect(() => {
    const ch = build(ref.current!);
    return () => ch.destroy();
  }, []);
  return <canvas ref={ref} width={W} height={H} style={{ position: 'absolute', left: 0, top: 0, width: W, height: H }} />;
}

export default function App() {
  return (
    <div style={{ position: 'absolute', left: 0, top: 0, width: W, height: H, background: '#fff', overflow: 'hidden' }}>
      {MAN_PANELS.map(p => <ChartCanvas key={'m' + p.title} build={c => makeManhattan(c, p)} />)}
      {QQ_PANELS.map(p => <ChartCanvas key={'q' + p.title} build={c => makeQQ(c, p)} />)}
    </div>
  );
}
